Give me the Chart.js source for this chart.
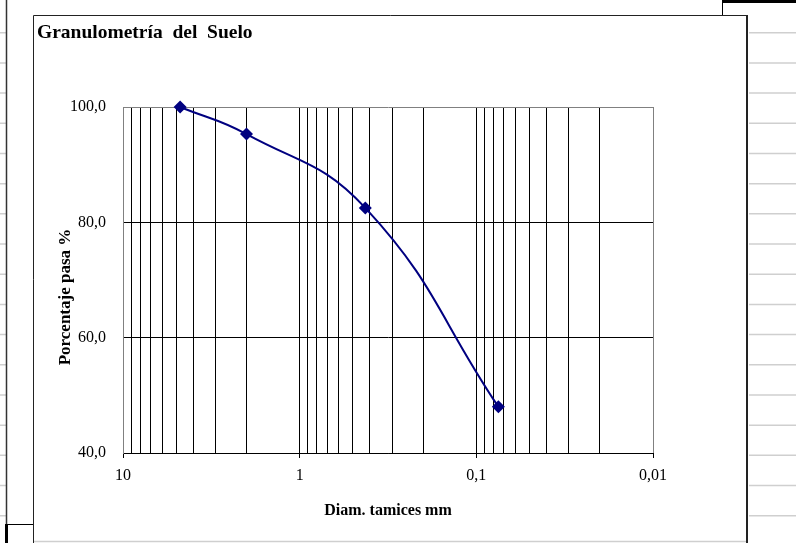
<!DOCTYPE html>
<html>
<head>
<meta charset="utf-8">
<title>Granulometría del Suelo</title>
<script src="https://cdn.jsdelivr.net/npm/chart.js@4.4.1/dist/chart.umd.min.js"></script>
<style>
  html, body { margin: 0; padding: 0; background: #fff; }
  canvas { display: block; }
</style>
</head>
<body>
<canvas id="granChart" width="796" height="543"></canvas>
<script>
// sieve openings (mm) and percent passing
const sieveSizes = [4.75, 2.0, 0.425, 0.075];
const passing = [100.0, 95.3, 82.5, 48.0];

// log gridlines on the diameter axis, labelled decades
const xGridValues = [0.01, 0.02, 0.03, 0.04, 0.05, 0.06, 0.07, 0.08, 0.09,
  0.1, 0.2, 0.3, 0.4, 0.5, 0.6, 0.7, 0.8, 0.9,
  1, 2, 3, 4, 5, 6, 7, 8, 9, 10];
const xTickLabels = [10, 1, 0.1, 0.01];
const yTickLabels = [40, 60, 80, 100];

const navy = "#000080";
const edgeGray = "#808080";
const serif = "'Liberation Serif', 'Times New Roman', serif";

// spreadsheet cells and chart frame around the plot
const sheetBackdrop = {
  id: "sheetBackdrop",
  beforeDraw(chart) {
    const ctx = chart.ctx;
    ctx.save();
    ctx.fillStyle = "#fff";
    ctx.fillRect(0, 0, chart.width, chart.height);

    ctx.strokeStyle = "#cfcfcf";
    ctx.lineWidth = 1.5;
    for (let i = 0; i < 17; i++) {
      const y = 32.7 + i * 30.19;
      ctx.beginPath();
      ctx.moveTo(0, y); ctx.lineTo(6, y);
      ctx.moveTo(749, y); ctx.lineTo(796, y);
      ctx.stroke();
    }
    ctx.beginPath();
    ctx.moveTo(34, 541.5); ctx.lineTo(747, 541.5);
    ctx.stroke();

    ctx.strokeStyle = "#333";
    ctx.lineWidth = 1.5;
    ctx.beginPath();
    ctx.moveTo(6.5, 0); ctx.lineTo(6.5, 524);
    ctx.stroke();

    ctx.strokeStyle = "#000";
    ctx.lineWidth = 1;
    ctx.beginPath();
    ctx.moveTo(7, 524.5); ctx.lineTo(33, 524.5);
    ctx.moveTo(722.5, 0); ctx.lineTo(722.5, 15);
    ctx.stroke();
    ctx.fillStyle = "#000";
    ctx.fillRect(5, 524, 3, 19);
    ctx.fillRect(722, 0, 74, 3);

    ctx.strokeStyle = "#222";
    ctx.lineWidth = 1;
    ctx.beginPath();
    ctx.moveTo(33.5, 543); ctx.lineTo(33.5, 15.5); ctx.lineTo(747, 15.5);
    ctx.stroke();
    ctx.lineWidth = 2;
    ctx.beginPath();
    ctx.moveTo(747, 15); ctx.lineTo(747, 543);
    ctx.stroke();
    ctx.restore();
  }
};

const points = sieveSizes.map((d, i) => ({ x: d, y: passing[i] }));

new Chart(document.getElementById("granChart"), {
  type: "line",
  data: {
    datasets: [{
      data: points,
      borderColor: navy,
      backgroundColor: navy,
      borderWidth: 2,
      tension: 0.45,
      pointStyle: "rectRot",
      pointRadius: 6.5,
      pointBorderWidth: 0,
      fill: false,
      clip: false
    }]
  },
  options: {
    responsive: false,
    animation: false,
    layout: { padding: { left: 37, top: 15, right: 143, bottom: 20 } },
    plugins: {
      legend: { display: false },
      tooltip: { enabled: false },
      title: {
        display: true,
        text: "Granulometría  del  Suelo",
        align: "start",
        color: "#000",
        font: { family: serif, size: 19.5, weight: "bold" },
        padding: { top: 6, bottom: 62.6 }
      }
    },
    scales: {
      x: {
        type: "logarithmic",
        reverse: true,
        min: 0.01,
        max: 10,
        afterBuildTicks: s => {
          s.ticks = xGridValues.map(v => ({ value: v, major: xTickLabels.includes(v) }));
        },
        afterFit: s => { s.height = 70; },
        border: { color: "#000", width: 1 },
        grid: {
          color: c => (c.tick && c.tick.value === 0.01) ? edgeGray : "#000",
          lineWidth: 1,
          tickLength: 5,
          tickColor: c => (c.tick && xTickLabels.includes(c.tick.value)) ? "#000" : "rgba(0,0,0,0)"
        },
        ticks: {
          autoSkip: false,
          maxRotation: 0,
          padding: 8,
          color: "#000",
          font: { family: serif, size: 16 },
          callback: v => xTickLabels.includes(v) ? String(v).replace(".", ",") : ""
        },
        title: {
          display: true,
          text: "Diam. tamices mm",
          color: "#000",
          font: { family: serif, size: 16, weight: "bold" },
          padding: { top: 0, bottom: 3 }
        }
      },
      y: {
        min: 40,
        max: 100,
        afterBuildTicks: s => {
          s.ticks = yTickLabels.map(v => ({ value: v }));
        },
        afterFit: s => { s.width = 86; },
        border: { color: edgeGray, width: 1 },
        grid: {
          color: c => (c.tick && c.tick.value === 100) ? edgeGray : "#000",
          lineWidth: 1,
          drawTicks: false
        },
        ticks: {
          padding: 17,
          color: "#000",
          font: { family: serif, size: 16 },
          callback: v => v.toFixed(1).replace(".", ",")
        },
        title: {
          display: true,
          // trailing spaces push the centred text down like the original
          text: "Porcentaje pasa %        ",
          color: "#000",
          font: { family: serif, size: 17, weight: "bold" },
          padding: { top: 18, bottom: 0 }
        }
      }
    }
  },
  plugins: [sheetBackdrop]
});
</script>
</body>
</html>
